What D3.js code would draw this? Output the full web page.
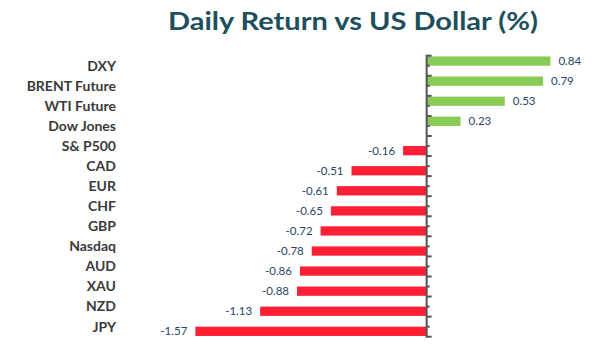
<!DOCTYPE html>
<html><head><meta charset="utf-8">
<script src="https://cdn.jsdelivr.net/npm/d3@7"></script>
<style>html,body{margin:0;padding:0;background:#fff;}</style>
</head><body><svg id="c" width="594" height="355"></svg>
<script>
const categories = ["DXY","BRENT Future","WTI Future","Dow Jones","S& P500","CAD","EUR","CHF","GBP","Nasdaq","AUD","XAU","NZD","JPY"];
const values = [0.84,0.79,0.53,0.23,-0.16,-0.51,-0.61,-0.65,-0.72,-0.78,-0.86,-0.88,-1.13,-1.57];
const labels = ["0.84","0.79","0.53","0.23","-0.16","-0.51","-0.61","-0.65","-0.72","-0.78","-0.86","-0.88","-1.13","-1.57"];
const seriesNames = ["gain","loss"];
const titleText = "Daily Return vs US Dollar (%)";

const svg = d3.select("#c");
const x = d3.scaleLinear().domain([-2, 1]).range([132, 574]);
const y = d3.scaleBand().domain(categories).range([55.7, 336.7]).padding(0);
const sub = d3.scaleBand().domain(seriesNames).range([0, y.bandwidth()]).paddingOuter(0.08).paddingInner(0);

svg.append("text").attr("x", 353).attr("y", 29.5).attr("text-anchor","middle")
  .attr("font-family","Lato").attr("font-weight","bold").attr("font-size",24.5)
  .attr("fill","#1d4f5c").attr("textLength",370).attr("lengthAdjust","spacingAndGlyphs").text(titleText);

const data = categories.map((c,i)=>({c, v: values[i], l: labels[i], s: values[i] >= 0 ? "gain" : "loss"}));

svg.append("g").selectAll("rect").data(data).join("rect")
  .attr("x", d => x(Math.min(0, d.v)))
  .attr("width", d => Math.abs(x(d.v) - x(0)))
  .attr("y", d => y(d.c) + sub(d.s))
  .attr("height", sub.bandwidth())
  .attr("fill", d => d.s === "gain" ? "#88cc55" : "#fe1f35");

svg.append("g").selectAll("text").data(data).join("text")
  .attr("x", d => d.v >= 0 ? x(d.v) + 8 : x(d.v) - 8)
  .attr("y", d => y(d.c) + sub(d.s) + sub.bandwidth()/2)
  .attr("dy","0.35em")
  .attr("text-anchor", d => d.v >= 0 ? "start" : "end")
  .attr("font-family","Lato").attr("font-size",11.5).attr("fill","#2a4566")
  .text(d => d.l);

// category labels
svg.append("g").selectAll("text").data(categories).join("text")
  .attr("x", 116).attr("y", d => y(d) + y.bandwidth()/2).attr("dy","0.35em")
  .attr("text-anchor","end").attr("font-family","Lato").attr("font-weight","bold")
  .attr("font-size",14).attr("fill","#3a3a3a").text(d => d);

// axis with major (band boundary) and minor (band centre) ticks
const axisG = svg.append("g");
const x0 = x(0);
const majors = categories.map(c => y(c)).concat([y.range()[1]]);
const minors = categories.map(c => y(c) + y.bandwidth()/2);
axisG.selectAll("line.maj").data(majors).join("line")
  .attr("x1", x0).attr("x2", x0 + 5).attr("y1", d => d).attr("y2", d => d)
  .attr("stroke","#555").attr("stroke-width",2);
axisG.selectAll("line.min").data(minors).join("line")
  .attr("x1", x0).attr("x2", x0 + 3).attr("y1", d => d).attr("y2", d => d)
  .attr("stroke","#555").attr("stroke-width",2);
axisG.append("line").attr("x1", x0).attr("x2", x0)
  .attr("y1", y.range()[0] - 1).attr("y2", y.range()[1] + 1)
  .attr("stroke","#555").attr("stroke-width",2);
</script></body></html>
